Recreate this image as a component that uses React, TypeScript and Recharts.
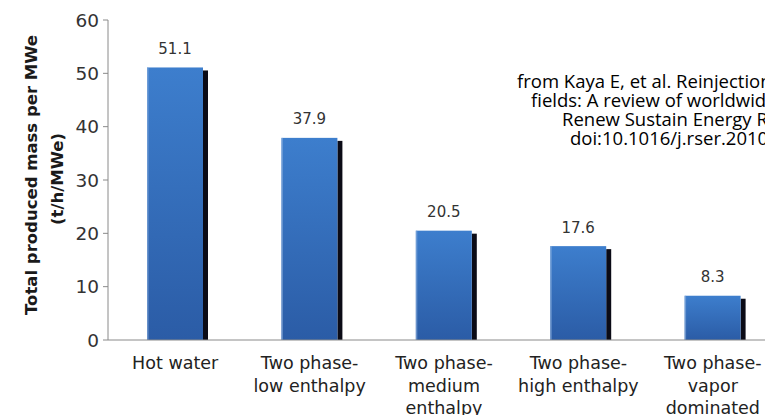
import { BarChart, Bar, XAxis, YAxis, LabelList } from 'recharts'

// Produced mass per MWe by reservoir type
const categories = ['hot', 'low', 'medium', 'high', 'vapor']
const categoryLines = [
  ['Hot water'],
  ['Two phase-', 'low enthalpy'],
  ['Two phase-', 'medium', 'enthalpy'],
  ['Two phase-', 'high enthalpy'],
  ['Two phase-', 'vapor', 'dominated'],
]
const massPerMWe = [51.1, 37.9, 20.5, 17.6, 8.3]
const yTicks = [0, 10, 20, 30, 40, 50, 60]
const citationLines = [
  'from Kaya E, et al. Reinjection in geothermal',
  'fields: A review of worldwide experience.',
  'Renew Sustain Energy Rev 2011;15:47-68.',
  'doi:10.1016/j.rser.2010.07.032',
]
const citationStarts = [517, 531, 562, 570]

const chartData = categories.map((key, i) => ({
  key,
  lines: categoryLines[i],
  value: massPerMWe[i],
}))

const FONT = '"DejaVu Sans", sans-serif'

const ShadowBar = (props: any) => {
  const { x, y, width, height } = props
  if (!height || height <= 0) return null
  return (
    <g>
      <rect x={x + width} y={y + 3} width={5} height={height - 3} fill="#0b0b16" />
      <rect x={x} y={y} width={width} height={height} fill="url(#barFill)" />
      <rect x={x} y={y} width={1.5} height={height} fill="#8fb3e0" opacity={0.6} />
    </g>
  )
}

const CategoryTick = (props: any) => {
  const { x, y, payload } = props
  const lines: string[] = chartData[payload.index]?.lines ?? []
  return (
    <text x={x} y={y + 29} textAnchor="middle" fill="#222" fontSize={17.5} fontFamily={FONT}>
      {lines.map((line, i) => (
        <tspan key={i} x={x} dy={i === 0 ? 0 : 22.5}>
          {line}
        </tspan>
      ))}
    </text>
  )
}

const ValueLabel = (props: any) => {
  const { x, y, width, value } = props
  return (
    <text x={x + width / 2} y={y - 13.5} textAnchor="middle" fill="#333" fontSize={15} fontFamily={FONT}>
      {value}
    </text>
  )
}

const YTitle = () => (
  <g fontFamily={FONT} fontWeight="bold" fontSize={16.5} fill="#1a1a1a">
    <text x={36.7} y={175} transform="rotate(-90 36.7 175)" textAnchor="middle">
      Total produced mass per MWe
    </text>
    <text x={63.3} y={179} transform="rotate(-90 63.3 179)" textAnchor="middle">
      (t/h/MWe)
    </text>
  </g>
)

export default function App() {
  return (
    <div
      style={{
        position: 'fixed',
        left: 0,
        top: 0,
        width: 765,
        height: 415,
        overflow: 'hidden',
        background: '#fff',
      }}
    >
      <BarChart width={800} height={415} data={chartData} margin={{ top: 20, right: 20, left: 0, bottom: 0 }}>
        <defs>
          <linearGradient id="barFill" x1="0" y1="0" x2="0" y2="1">
            <stop offset="0%" stopColor="#3d7ecd" />
            <stop offset="100%" stopColor="#2b5ca6" />
          </linearGradient>
        </defs>
        <XAxis
          dataKey="key"
          height={75}
          tick={<CategoryTick />}
          tickLine={false}
          tickSize={0}
          tickMargin={0}
          axisLine={{ stroke: '#8a8a8a' }}
          interval={0}
        />
        <YAxis
          width={108}
          domain={[0, 60]}
          ticks={yTicks}
          tickSize={5}
          tickMargin={4}
          tick={{ fill: '#333', fontSize: 18.5, fontFamily: FONT }}
          tickLine={{ stroke: '#8a8a8a' }}
          axisLine={{ stroke: '#8a8a8a' }}
          label={{ content: () => <YTitle /> }}
        />
        <Bar dataKey="value" barSize={56} shape={<ShadowBar />} isAnimationActive={false}>
          <LabelList dataKey="value" content={<ValueLabel />} />
        </Bar>
        <g fontFamily='"Open Sans", sans-serif' fontSize={18.5} fill="#000">
          {citationLines.map((line, i) => (
            <text key={i} x={citationStarts[i]} y={88 + i * 19}>
              {line}
            </text>
          ))}
        </g>
      </BarChart>
    </div>
  )
}
